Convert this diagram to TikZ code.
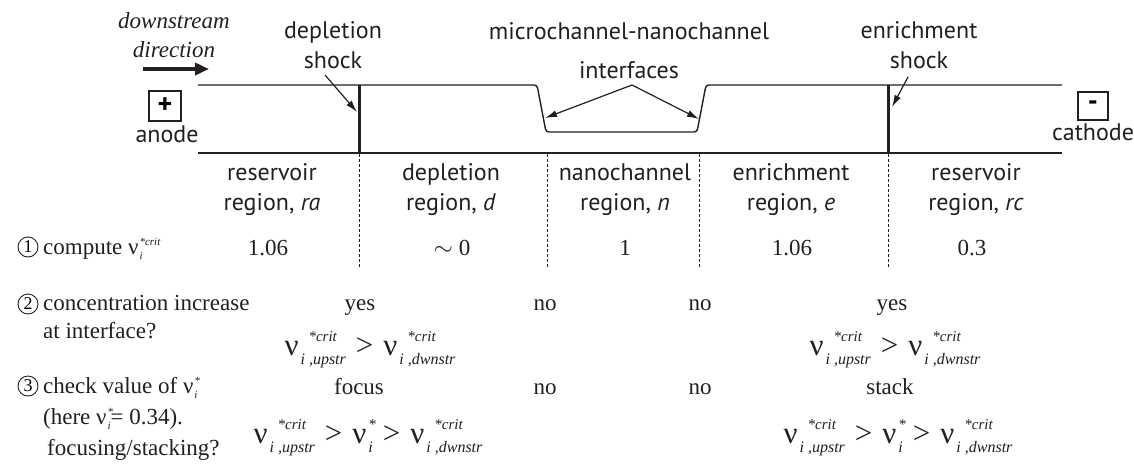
\documentclass[tikz,border=0pt]{standalone}
\usepackage{fontspec}
\setmainfont{Liberation Serif}
\setsansfont{PT Sans}
\usetikzlibrary{arrows.meta,positioning}
\definecolor{FigInk}{HTML}{231F20}

% nu with raised and lowered scripts
\newcommand{\textnu}[2]{ν\kern1pt\rlap{\raisebox{9pt}{\fontsize{11}{11}\selectfont\itshape #1}}\raisebox{-5pt}{\fontsize{11}{11}\selectfont\itshape #2}}
\newcommand{\formnu}[3][0pt]{{\fontsize{31}{31}\selectfont ν}\kern2pt\rlap{\raisebox{14pt}{\kern#1\fontsize{15}{15}\selectfont\itshape #2}}\raisebox{-9pt}{\fontsize{16}{16}\selectfont\itshape #3}}
\newcommand{\gtsign}{\hspace{10pt}{\fontsize{31}{31}\selectfont >}\hspace{10pt}}

\tikzset{
  wall/.style={FigInk,line width=1.4pt},
  shockline/.style={FigInk,line width=3pt},
  divider/.style={FigInk,line width=1pt,dash pattern=on 3pt off 2pt},
  pointer/.style={FigInk,line width=1.2pt,-{Latex[length=12pt,width=7pt]}},
  sanslabel/.style={text=FigInk,font=\sffamily\fontsize{24}{30}\selectfont,align=center,inner sep=0pt},
  seriftext/.style={text=FigInk,font=\fontsize{23}{28}\selectfont,inner sep=0pt},
  stepno/.style={circle,draw=FigInk,line width=0.9pt,inner sep=0pt,minimum size=20pt,font=\fontsize{18}{18}\selectfont},
  polebox/.style={draw=FigInk,line width=1.2pt,minimum width=32pt,minimum height=30pt,inner sep=0pt,font=\sffamily\bfseries\fontsize{28}{28}\selectfont}
}

\begin{document}
\begin{tikzpicture}[x=1pt,y=-1pt]
  \useasboundingbox (0,0) rectangle (1134,469);

  % channel
  \draw[wall,rounded corners=3pt]
    (198,85) -- (537,85) -- (546,132) -- (697,132) -- (706,85) -- (1062,85);
  \draw[wall] (198,153) -- (1062,153);
  \draw[shockline] (359,85) -- (359,153);
  \draw[shockline] (888,85) -- (888,153);
  \draw[divider] (359,154) -- (359,268);
  \draw[divider] (547,154) -- (547,268);
  \draw[divider] (699,154) -- (699,268);
  \draw[divider] (888,154) -- (888,268);

  % electrodes
  \node[polebox] (plus) at (165,106) {+};
  \node[sanslabel,anchor=base] (anode) at (167,142) {anode};
  \node[polebox,minimum width=30pt,minimum height=28pt] (minus) at (1093,106) {-};
  \node[sanslabel,anchor=base] (cathode) at (1093,140) {cathode};

  % flow direction (base = last line)
  \node[seriftext,font=\itshape\fontsize{23}{29}\selectfont,align=center,anchor=base]
    (dirlabel) at (174,57) {downstream\\direction};
  \coordinate (dirtail) at (143,69);
  \coordinate (dirtip) at (209,69);
  \draw[FigInk,line width=3.5pt,-{Triangle[length=14pt,width=12pt]}] (dirtail) -- (dirtip);

  % shocks and interfaces
  \node[sanslabel,anchor=base] (deplshock) at (333,68) {depletion\\shock};
  \coordinate (depltail) at (325,75);
  \coordinate (depltip) at (357,112);
  \draw[pointer] (depltail) -- (depltip);

  \node[sanslabel,anchor=base] (interf) at (629,78) {microchannel-nanochannel\\[9pt]interfaces};
  \coordinate (interftail) at (632,85);
  \coordinate (interfleft) at (545,118);
  \coordinate (interfright) at (699,119);
  \draw[pointer] (interftail) -- (interfleft);
  \draw[pointer] (interftail) -- (interfright);

  \node[sanslabel,anchor=base] (enrshock) at (919,68) {enrichment\\shock};
  \coordinate (enrtail) at (908,77);
  \coordinate (enrtip) at (892,107);
  \draw[pointer] (enrtail) -- (enrtip);

  % regions
  \node[sanslabel,anchor=base] (regra) at (272,210) {reservoir\\region, \textit{ra}};
  \node[sanslabel,anchor=base] (regd) at (451,210) {depletion\\region, \textit{d}};
  \node[sanslabel,anchor=base] (regn) at (625,210) {nanochannel\\region, \textit{n}};
  \node[sanslabel,anchor=base] (rege) at (791,210) {enrichment\\region, \textit{e}};
  \node[sanslabel,anchor=base] (regrc) at (976,210) {reservoir\\region, \textit{rc}};

  % step 1
  \node[stepno] (stepa) at (28,247) {1};
  \node[seriftext,anchor=base west] (rowa) at (43,254) {compute \textnu{*crit}{i}};
  \node[seriftext,anchor=base] (vra) at (268,255) {1.06};
  \node[seriftext,anchor=base] (vd) at (452,255) {$\sim$ 0};
  \node[seriftext,anchor=base] (vn) at (625,255) {1};
  \node[seriftext,anchor=base] (ve) at (792,255) {1.06};
  \node[seriftext,anchor=base] (vrc) at (972,255) {0.3};

  % step 2
  \node[stepno] (stepb) at (28,304) {2};
  \node[seriftext,anchor=base west,align=left] (rowb) at (43,338) {concentration increase\\at interface?};
  \node[seriftext,anchor=base] (incleft) at (360,310) {yes};
  \node[seriftext,anchor=base] (incdn) at (545,310) {no};
  \node[seriftext,anchor=base] (incne) at (700,310) {no};
  \node[seriftext,anchor=base] (incright) at (892,310) {yes};
  \node[seriftext,anchor=base] (condleft) at (370,355)
    {\formnu[8pt]{*crit}{i ,upstr}\gtsign\formnu[8pt]{*crit}{i ,dwnstr}};
  \node[seriftext,anchor=base] (condright) at (895,355)
    {\formnu[8pt]{*crit}{i ,upstr}\gtsign\formnu[8pt]{*crit}{i ,dwnstr}};

  % step 3
  \node[stepno] (stepc) at (28,386) {3};
  \node[seriftext,font=\fontsize{23}{31}\selectfont,anchor=base west,align=left] (rowc) at (43,455)
    {check value of \textnu{*}{i}\\(here \textnu{*}{i}= 0.34).\\\hspace{4pt}focusing/stacking?};
  \node[seriftext,anchor=base] (focus) at (359,394) {focus};
  \node[seriftext,anchor=base] (stepdn) at (545,394) {no};
  \node[seriftext,anchor=base] (stepne) at (700,394) {no};
  \node[seriftext,anchor=base] (stack) at (890,394) {stack};
  \node[seriftext,anchor=base] (rangeleft) at (368,443)
    {\formnu[8pt]{*crit}{i ,upstr}\gtsign\formnu{*}{i}\gtsign\formnu[8pt]{*crit}{i ,dwnstr}};
  \node[seriftext,anchor=base] (rangeright) at (898,443)
    {\formnu[8pt]{*crit}{i ,upstr}\gtsign\formnu{*}{i}\gtsign\formnu[8pt]{*crit}{i ,dwnstr}};
\end{tikzpicture}
\end{document}
